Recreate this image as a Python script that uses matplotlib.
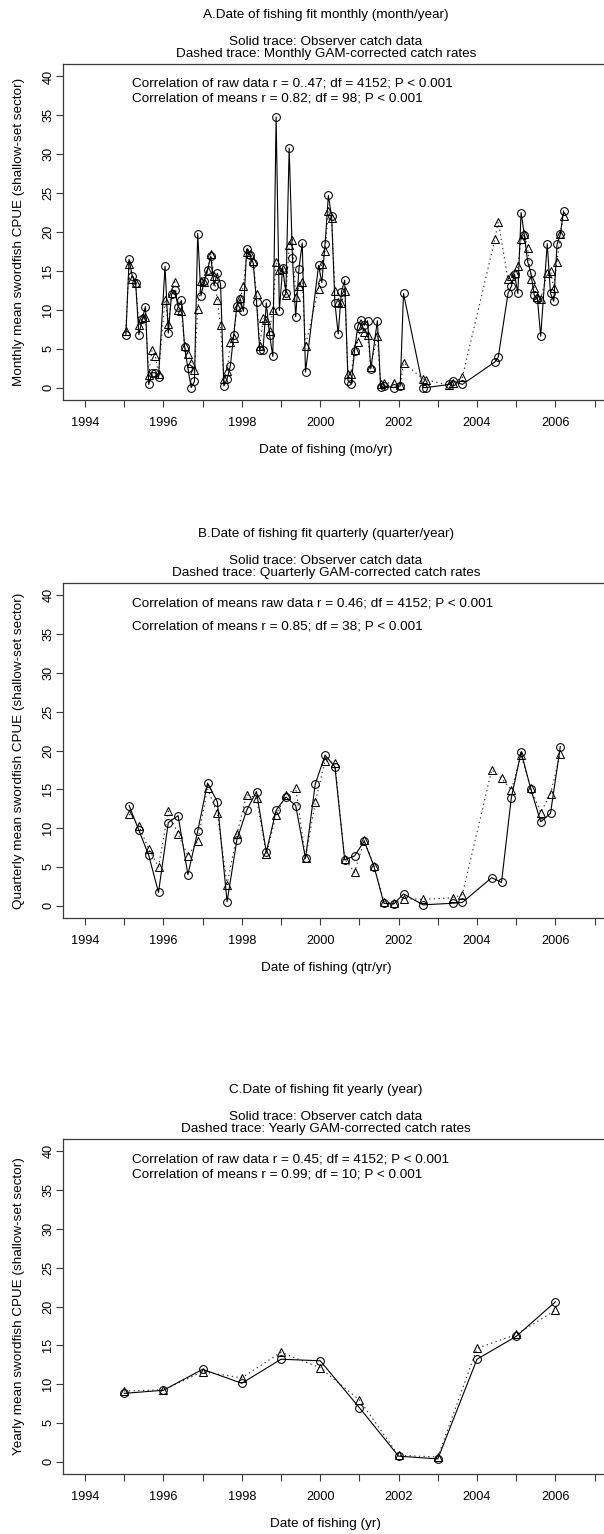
import matplotlib
matplotlib.use("Agg")
import matplotlib.pyplot as plt

plt.rcParams['font.family'] = ['Liberation Sans', 'DejaVu Sans']

# ---------------- data ----------------
# Monthly means; month_offset counts months from January 1995
month_offset = [0, 1, 2, 3, 4, 5, 6, 7, 8, 9, 10,
                12, 13, 14, 15, 16, 17, 18, 19, 20, 21, 22, 23, 24, 25, 26, 27, 28, 29,
                30, 31, 32, 33, 34, 35, 36, 37, 38, 39, 40, 41, 42, 43, 44, 45, 46, 47,
                48, 49, 50, 51, 52, 53, 54, 55,
                59, 60, 61, 62, 63, 64, 65, 66, 67, 68, 69, 70, 71, 72, 73, 74, 75,
                77, 78, 79, 82, 84, 85, 91, 92, 99, 100, 103, 113, 114,
                117, 118, 119, 120, 121, 122, 123, 124, 125, 126, 127,
                129, 130, 131, 132, 133, 134]
month_obs = [6.7, 16.5, 14.3, 13.4, 6.8, 8.8, 10.4, 0.4, 1.9, 1.9, 1.3,
             15.6, 7.0, 12.0, 12.5, 10.4, 11.2, 5.2, 2.5, 0.0, 0.8, 19.8, 11.8, 13.7, 15.1, 16.9, 13.1, 14.7, 13.3,
             0.2, 1.1, 2.8, 6.7, 10.5, 11.4, 9.8, 17.8, 17.0, 16.0, 11.0, 4.8, 4.8, 10.9, 6.8, 4.0, 34.8, 9.9,
             15.4, 12.2, 30.8, 16.7, 9.1, 15.3, 18.6, 2.0,
             15.7, 13.5, 18.5, 24.7, 22.0, 10.9, 6.9, 12.3, 13.8, 0.9, 0.5, 4.7, 7.9, 8.7, 8.0, 8.6, 2.4,
             8.6, 0.1, 0.2, 0.0, 0.2, 12.1, 0.0, 0.0, 0.4, 0.9, 0.4, 3.3, 3.9,
             12.1, 13.0, 14.6, 12.1, 22.5, 19.6, 16.2, 14.7, 11.9, 11.4, 6.6,
             18.5, 12.1, 11.1, 18.4, 19.7, 22.7]
month_gam = [7.3, 15.9, 14.0, 13.5, 8.0, 9.0, 9.1, 1.6, 4.8, 4.1, 1.7,
             11.3, 8.2, 12.2, 13.6, 10.0, 9.8, 5.3, 4.3, 3.1, 2.2, 10.1, 13.7, 13.6, 15.0, 17.2, 14.4, 11.2, 8.0,
             1.1, 2.1, 5.8, 6.4, 10.4, 11.5, 13.0, 17.4, 17.2, 16.3, 12.0, 5.3, 8.9, 8.7, 7.3, 10.0, 16.1, 15.1,
             15.3, 11.9, 18.3, 19.0, 11.7, 13.0, 13.6, 5.4,
             12.7, 15.9, 17.5, 22.7, 21.8, 12.4, 11.0, 10.9, 12.4, 1.8, 1.8, 4.8, 5.9, 7.7, 7.2, 6.8, 2.7,
             6.6, 0.4, 0.6, 0.6, 0.3, 3.2, 1.1, 1.0, 0.3, 0.6, 1.3, 19.1, 21.3,
             13.9, 14.3, 14.7, 15.6, 19.1, 19.7, 18.0, 13.9, 12.8, 11.7, 11.4,
             14.7, 15.0, 12.8, 16.2, 19.7, 22.1]

# Quarterly means; quarter_offset counts quarters from Q1 1995
quarter_offset = list(range(0, 29)) + [30, 33, 34, 37, 38, 39, 40, 41, 42, 43, 44]
quarter_obs = [12.9, 9.7, 6.5, 1.7, 10.7, 11.6, 4.0, 9.6,
               15.8, 13.4, 0.5, 8.5, 12.3, 14.7, 6.9, 12.3,
               14.0, 12.9, 6.1, 15.7, 19.4, 17.9, 5.9, 6.4,
               8.3, 5.0, 0.3, 0.2, 1.5, 0.1, 0.3, 0.4,
               3.6, 3.0, 13.9, 19.8, 15.0, 10.8, 11.9, 20.5]
quarter_gam = [11.8, 10.3, 7.3, 5.0, 12.2, 9.2, 6.4, 8.3,
               15.1, 11.9, 2.7, 9.2, 14.3, 13.9, 6.6, 11.7,
               14.2, 15.2, 6.2, 13.3, 18.7, 18.4, 6.0, 4.3,
               8.4, 5.1, 0.5, 0.3, 0.9, 0.8, 1.0, 1.4,
               17.5, 16.4, 14.9, 19.4, 15.1, 12.0, 14.4, 19.6]

# Yearly means
years = [1995, 1996, 1997, 1998, 1999, 2000, 2001, 2002, 2003, 2004, 2005, 2006]
year_obs = [8.8, 9.2, 11.9, 10.1, 13.2, 13.0, 6.95, 0.7, 0.35, 13.2, 16.15, 20.6]
year_gam = [9.1, 9.25, 11.6, 10.8, 14.1, 12.1, 7.95, 0.8, 0.6, 14.6, 16.4, 19.5]

xtick_years = list(range(1994, 2008))
xtick_labels = ['1994', '', '1996', '', '1998', '', '2000', '', '2002', '',
                '2004', '', '2006', '']
ytick_values = [0, 5, 10, 15, 20, 25, 30, 35, 40]

month_x = [1995 + (k + 0.5) / 12 for k in month_offset]
quarter_x = [1995 + (q + 0.5) / 4 for q in quarter_offset]

panels = [
    dict(x=month_x, obs=month_obs, gam=month_gam,
         title="A.Date of fishing fit monthly (month/year)",
         dashed="Dashed trace: Monthly GAM-corrected catch rates",
         notes=["Correlation of raw data r = 0..47; df = 4152; P < 0.001",
                "Correlation of means r = 0.82; df = 98; P < 0.001"],
         note_y=[39.1, 37.2],
         ylabel="Monthly mean swordfish CPUE (shallow-set sector)",
         xlabel="Date of fishing (mo/yr)", top=64, bottom=400),
    dict(x=quarter_x, obs=quarter_obs, gam=quarter_gam,
         title="B.Date of fishing fit quarterly (quarter/year)",
         dashed="Dashed trace: Quarterly GAM-corrected catch rates",
         notes=["Correlation of means raw data r = 0.46; df = 4152; P < 0.001",
                "Correlation of means r = 0.85; df = 38; P < 0.001"],
         note_y=[38.9, 36.0],
         ylabel="Quarterly mean swordfish CPUE (shallow-set sector)",
         xlabel="Date of fishing (qtr/yr)", top=583, bottom=918),
    dict(x=years, obs=year_obs, gam=year_gam,
         title="C.Date of fishing fit yearly (year)",
         dashed="Dashed trace: Yearly GAM-corrected catch rates",
         notes=["Correlation of raw data r = 0.45; df = 4152; P < 0.001",
                "Correlation of means r = 0.99; df = 10; P < 0.001"],
         note_y=[38.9, 37.0],
         ylabel="Yearly mean swordfish CPUE (shallow-set sector)",
         xlabel="Date of fishing (yr)", top=1139, bottom=1474),
]

# ---------------- drawing ----------------
W, H = 604, 1534
fig = plt.figure(figsize=(W / 100, H / 100), dpi=100)
fig.patch.set_facecolor('white')

XMIN, XMAX = 1993.45, 2008.55
PX_PER_YEAR = 39.2
AX_LEFT = 85 - (1994 - XMIN) * PX_PER_YEAR
AX_WIDTH = (XMAX - XMIN) * PX_PER_YEAR
TXT = 9.7
TICK_TXT = 9.2
CENTER_X = 326
box_color = '#3a3a3a'


def ftext(px, py, s, **kw):
    fig.text(px / W, 1 - py / H, s, **kw)


for p in panels:
    top, bottom = p['top'], p['bottom']
    ax = fig.add_axes([AX_LEFT / W, 1 - bottom / H, AX_WIDTH / W, (bottom - top) / H])
    ax.set_xlim(XMIN, XMAX)
    ax.set_ylim(-1.6, 41.6)

    ax.plot(p['x'], p['gam'], color='#2a2a2a', lw=0.8, linestyle=(0, (1.2, 3.0)),
            marker='^', markersize=5.6, markerfacecolor='none',
            markeredgecolor='black', markeredgewidth=0.75, zorder=3)
    ax.plot(p['x'], p['obs'], color='black', lw=0.8, linestyle='-',
            marker='o', markersize=5.6, markerfacecolor='none',
            markeredgecolor='black', markeredgewidth=0.75, zorder=4)

    ax.set_xticks(xtick_years)
    ax.set_xticklabels(xtick_labels)
    ax.set_yticks(ytick_values)
    ax.set_yticklabels([str(v) for v in ytick_values], rotation=90, va='center')
    ax.tick_params(axis='both', direction='out', length=5.0, width=0.8,
                   color=box_color, labelsize=TICK_TXT, labelcolor='black')
    ax.tick_params(axis='x', pad=7.0)
    ax.tick_params(axis='y', pad=1.5)
    for sp in ax.spines.values():
        sp.set_color(box_color)
        sp.set_linewidth(0.9)

    for s, yv in zip(p['notes'], p['note_y']):
        ax.text(1995.2, yv, s, fontsize=TXT, ha='left', va='center')

    ftext(CENTER_X, top - 49, p['title'], fontsize=TXT, ha='center', va='center')
    ftext(CENTER_X, top - 22, "Solid trace: Observer catch data", fontsize=TXT,
          ha='center', va='center')
    ftext(CENTER_X, top - 10, p['dashed'], fontsize=TXT, ha='center', va='center')
    ftext(19, (top + bottom) / 2, p['ylabel'], fontsize=TXT, rotation=90,
          ha='center', va='center')
    ftext(CENTER_X, bottom + 50, p['xlabel'], fontsize=TXT, ha='center', va='center')

fig.savefig('out.png', dpi=100, facecolor='white')
